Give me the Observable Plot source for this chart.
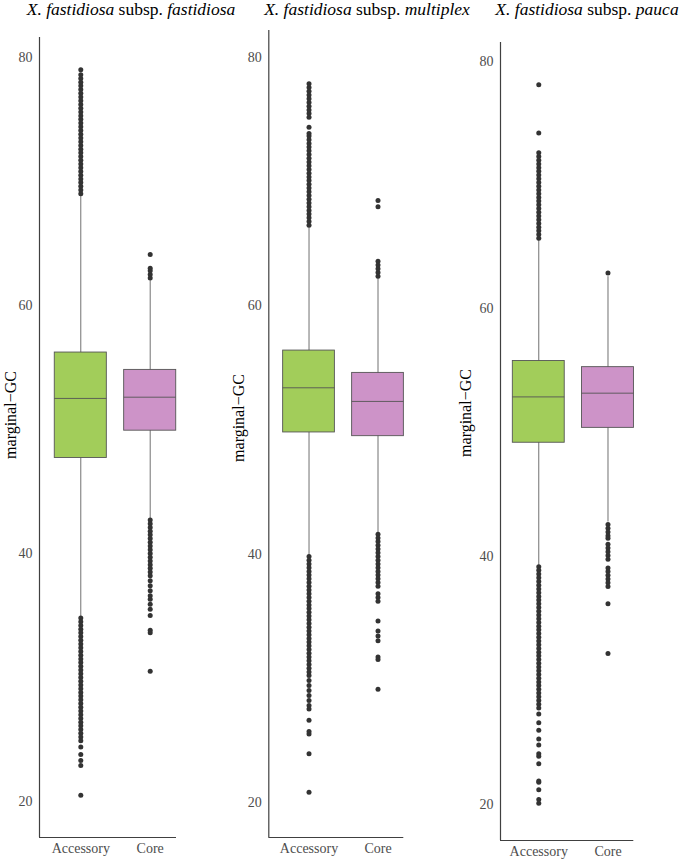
<!DOCTYPE html>
<html><head><meta charset="utf-8">
<script src="https://cdn.jsdelivr.net/npm/d3@7"></script>
<script src="https://cdn.jsdelivr.net/npm/@observablehq/plot@0.6"></script>
<style>
body{margin:0;background:#fff;}
#wrap{position:relative;width:680px;height:860px;overflow:hidden;font-family:"Liberation Serif","Times New Roman",serif;color:#000;}
.panel{position:absolute;top:0;}
.panel text{font-family:"Liberation Serif","Times New Roman",serif !important;}
.title{position:absolute;top:-1px;font-size:17.5px;line-height:20px;white-space:nowrap;text-align:center;width:300px;}
.ylab{position:absolute;font-size:16px;line-height:16px;white-space:nowrap;transform:translate(-50%,-50%) rotate(-90deg);}
</style>
</head><body><div id="wrap"></div>
<script>
// ---- data ----
const categories = ["Accessory", "Core"];
const fillColors = ["#a2cd5a", "#cd93c8"];
const species = "X. fastidiosa";
const subspecies = ["fastidiosa", "multiplex", "pauca"];
const yLabel = "marginal\u2212GC";
const yTicks = [20, 40, 60, 80];

// [panel][category]
const q1Values = [[47.7, 49.9], [49.8, 49.5], [49.2, 50.4]];
const medianValues = [[52.5, 52.6], [53.4, 52.3], [52.9, 53.2]];
const q3Values = [[56.2, 54.8], [56.4, 54.6], [55.8, 55.3]];
const whiskerLow = [[34.9, 42.8], [39.9, 41.7], [39.3, 42.8]];
const whiskerHigh = [[68.9, 62.0], [66.3, 62.2], [65.6, 62.6]];

const fastidiosaAccessoryOutliers = [69.0,69.3,69.6,69.9,70.2,70.5,70.8,71.1,71.4,71.7,72.0,72.3,72.6,72.9,73.2,73.5,73.8,74.1,74.4,74.7,75.0,75.3,75.6,75.9,76.2,76.5,76.8,77.1,77.4,77.7,78.0,78.3,78.6,79.0,
  34.8,34.5,34.2,33.9,33.6,33.3,33.0,32.7,32.4,32.1,31.8,31.5,31.2,30.9,30.6,30.3,30.0,29.7,29.4,29.1,28.8,28.5,28.2,27.9,27.6,27.3,27.0,26.7,26.4,26.1,25.8,25.5,25.2,24.9,24.4,23.8,23.3,22.9,20.5];
const fastidiosaCoreOutliers = [62.2,62.5,62.8,63.0,64.1,
  42.7,42.4,42.1,41.8,41.5,41.2,40.9,40.6,40.3,40.0,39.7,39.4,39.1,38.8,38.5,38.2,37.8,37.4,37.0,36.6,36.3,35.9,35.5,35.0,33.8,33.6,30.5];
const multiplexAccessoryOutliers = [66.5,66.8,67.1,67.4,67.7,68.0,68.3,68.6,68.9,69.2,69.5,69.8,70.1,70.4,70.7,71.0,71.3,71.6,71.9,72.2,72.5,72.8,73.1,73.4,73.7,73.9,74.4,75.2,75.5,75.8,76.1,76.4,76.7,77.0,77.3,77.6,77.9,
  39.8,39.5,39.2,38.9,38.6,38.3,38.0,37.7,37.4,37.1,36.8,36.5,36.2,35.9,35.6,35.3,35.0,34.7,34.4,34.1,33.8,33.5,33.2,32.9,32.6,32.3,32.0,31.7,31.4,31.1,30.8,30.5,30.2,29.8,29.4,29.0,28.6,28.2,27.8,27.5,26.6,25.7,25.5,23.9,20.8];
const multiplexCoreOutliers = [62.4,62.7,63.0,63.3,63.6,68.0,68.5,
  41.6,41.3,41.0,40.7,40.4,40.1,39.8,39.5,39.2,38.9,38.6,38.3,38.0,37.7,37.4,36.8,36.5,36.2,34.6,33.8,33.4,33.0,31.7,31.5,29.1];
const paucaAccessoryOutliers = [65.7,66.0,66.3,66.6,66.9,67.2,67.5,67.8,68.1,68.4,68.7,69.0,69.3,69.6,69.9,70.2,70.5,70.8,71.1,71.4,71.7,72.0,72.3,72.6,74.2,78.1,
  39.2,38.9,38.6,38.3,38.0,37.7,37.4,37.1,36.8,36.5,36.2,35.9,35.6,35.3,35.0,34.7,34.4,34.1,33.8,33.5,33.2,32.9,32.6,32.3,32.0,31.7,31.4,31.1,30.8,30.5,30.2,29.9,29.6,29.3,29.0,28.7,28.4,28.1,27.8,27.3,26.6,26.0,25.3,24.8,24.1,23.9,23.3,21.9,21.8,21.2,20.4,20.1];
const paucaCoreOutliers = [62.9,
  42.6,42.3,42.0,41.7,41.5,41.0,40.7,40.4,40.1,39.8,39.1,38.8,38.5,38.2,37.9,37.6,36.2,32.2];

const outliers = [
  [fastidiosaAccessoryOutliers, fastidiosaCoreOutliers],
  [multiplexAccessoryOutliers, multiplexCoreOutliers],
  [paucaAccessoryOutliers, paucaCoreOutliers]
];

// ---- layout ----
const serif = '"Liberation Serif","Times New Roman",serif';
const panels = [
  {left: 0,   width: 225, mL: 39,   mR: 49,   mT: 37, mB: 23, xDom: [-0.595, 1.379], yDom: [17.1, 81.6], title: 131, ylab: [11, 415]},
  {left: 225, width: 230, mL: 43.3, mR: 51.7, mT: 30, mB: 23, xDom: [-0.583, 1.374], yDom: [17.15, 82.2], title: 367, ylab: [238.5, 418]},
  {left: 455, width: 225, mL: 45,   mR: 46.7, mT: 42, mB: 20, xDom: [-0.553, 1.373], yDom: [17.1, 81.5], title: 587, ylab: [466, 413]}
];
const half = 0.375;
const wrap = document.getElementById("wrap");

panels.forEach((P, p) => {
  const boxes = categories.map((c, i) => ({
    i, cat: c, q1: q1Values[p][i], med: medianValues[p][i], q3: q3Values[p][i],
    lo: whiskerLow[p][i], hi: whiskerHigh[p][i]
  }));
  const pts = outliers[p].flatMap((arr, i) => arr.map(v => ({i, v})));
  const chart = Plot.plot({
    width: P.width, height: 860,
    marginLeft: P.mL, marginRight: P.mR, marginTop: P.mT, marginBottom: P.mB,
    style: `font-family: ${serif}; font-size: 14px; color: #4d4d4d; background: transparent; overflow: visible;`,
    x: {type: "linear", domain: P.xDom, label: null},
    y: {domain: P.yDom, label: null},
    color: {domain: categories, range: fillColors},
    marks: [
      Plot.ruleX(boxes, {x: "i", y1: "lo", y2: "hi", stroke: "#4d4d4d", strokeWidth: 0.8}),
      Plot.rect(boxes, {x1: d => d.i - half, x2: d => d.i + half, y1: "q1", y2: "q3", fill: "cat", stroke: "#555", strokeWidth: 0.9}),
      Plot.ruleY(boxes, {y: "med", x1: d => d.i - half, x2: d => d.i + half, stroke: "#555", strokeWidth: 0.9}),
      Plot.dot(pts, {x: "i", y: "v", r: 2.5, fill: "#333", stroke: null}),
      Plot.ruleX([P.xDom[0]], {stroke: "#404040", strokeWidth: 1.2}),
      Plot.ruleY([P.yDom[0]], {stroke: "#404040", strokeWidth: 1.2}),
      Plot.axisY({ticks: yTicks, tickSize: 0, tickPadding: 7, fontSize: 14, fontFamily: serif, label: null}),
      Plot.axisX({ticks: [0, 1], tickFormat: i => categories[i], tickSize: 0, tickPadding: 6, fontSize: 14, fontFamily: serif, label: null})
    ]
  });
  chart.classList.add("panel");
  chart.style.left = P.left + "px";
  wrap.appendChild(chart);

  const t = document.createElement("div");
  t.className = "title";
  t.style.left = (P.title - 150) + "px";
  t.innerHTML = `<i>${species}</i> subsp. <i>${subspecies[p]}</i>`;
  wrap.appendChild(t);

  const yl = document.createElement("div");
  yl.className = "ylab";
  yl.style.left = P.ylab[0] + "px";
  yl.style.top = P.ylab[1] + "px";
  yl.textContent = yLabel;
  wrap.appendChild(yl);
});
</script>
</body></html>
